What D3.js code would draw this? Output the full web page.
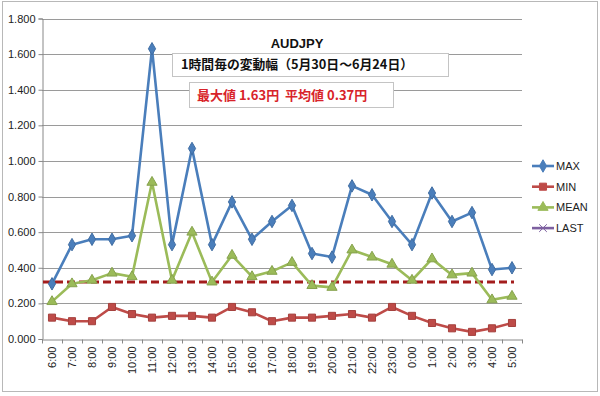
<!DOCTYPE html>
<html>
<head>
<meta charset="utf-8">
<script src="https://cdn.jsdelivr.net/npm/d3@7/dist/d3.min.js"></script>
<style>
  body { margin: 0; background: #fff; }
  svg { display: block; }
  .axis text { font-family: "Liberation Sans", Arial, sans-serif; font-size: 11px; fill: #222; }
</style>
</head>
<body>
<div id="chart"></div>
<script>
// hours (x categories)
var hours = ["6:00","7:00","8:00","9:00","10:00","11:00","12:00","13:00","14:00","15:00","16:00","17:00",
             "18:00","19:00","20:00","21:00","22:00","23:00","0:00","1:00","2:00","3:00","4:00","5:00"];

var maxVals  = [0.31,0.53,0.56,0.56,0.58,1.63,0.53,1.07,0.53,0.77,0.56,0.66,
                0.75,0.48,0.46,0.86,0.81,0.66,0.53,0.82,0.66,0.71,0.39,0.40];
var minVals  = [0.12,0.10,0.10,0.18,0.14,0.12,0.13,0.13,0.12,0.18,0.15,0.10,
                0.12,0.12,0.13,0.14,0.12,0.18,0.13,0.09,0.06,0.04,0.06,0.09];
var meanVals = [0.21,0.31,0.33,0.37,0.35,0.88,0.33,0.60,0.32,0.47,0.35,0.38,
                0.43,0.30,0.29,0.50,0.46,0.42,0.33,0.45,0.36,0.37,0.22,0.24];
var refLine = 0.32;

var yTicks = [0, 0.2, 0.4, 0.6, 0.8, 1.0, 1.2, 1.4, 1.6, 1.8];
var seriesNames = ["MAX", "MIN", "MEAN", "LAST"];
var colors = {MAX: "#4a7ebb", MIN: "#be4b48", MEAN: "#9bbb59", LAST: "#7d60a0"};

var width = 600, height = 396;
var svg = d3.select("#chart").append("svg")
    .attr("width", width)
    .attr("height", height);

// chart frame
svg.append("rect")
    .attr("x", 2.5).attr("y", 1.5)
    .attr("width", 595).attr("height", 390)
    .attr("fill", "#fff")
    .attr("stroke", "#b8b8b8");

var x = d3.scaleBand().domain(hours).range([42, 522]);
var y = d3.scaleLinear().domain([0, 1.8]).range([339, 18.5]);
var cx = function(d, i) { return x(hours[i]) + x.bandwidth() / 2; };

// gridlines
svg.append("g")
    .selectAll("line")
    .data(yTicks.slice(1))
    .join("line")
    .attr("x1", 42).attr("x2", 522)
    .attr("y1", function(d) { return Math.round(y(d)) + 0.5; })
    .attr("y2", function(d) { return Math.round(y(d)) + 0.5; })
    .attr("stroke", "#9a9a9a")
    .attr("stroke-width", 1);

// y axis
var yAxis = svg.append("g")
    .attr("class", "axis")
    .attr("transform", "translate(42.5,0)")
    .call(d3.axisLeft(y).tickValues(yTicks).tickFormat(d3.format(".3f")).tickSize(4).tickPadding(3));
yAxis.selectAll("path, line").attr("stroke", "#888");

// x axis
var xAxis = svg.append("g")
    .attr("class", "axis")
    .attr("transform", "translate(0,339.5)")
    .call(d3.axisBottom(x).tickSize(0).tickPadding(0));
xAxis.select("path").attr("stroke", "#888");
xAxis.selectAll("text")
    .attr("transform", "rotate(-90)")
    .attr("text-anchor", "end")
    .attr("x", -7)
    .attr("y", 0)
    .attr("dy", "0.35em");
// tick marks at band boundaries
xAxis.selectAll(".bnd")
    .data(hours.concat(["end"]))
    .join("line")
    .attr("class", "bnd")
    .attr("x1", function(d, i) { return Math.round(42 + i * x.step()) + 0.5; })
    .attr("x2", function(d, i) { return Math.round(42 + i * x.step()) + 0.5; })
    .attr("y1", 0).attr("y2", 4)
    .attr("stroke", "#888");

// reference dashed line
svg.append("line")
    .attr("x1", 43).attr("x2", cx(null, hours.length - 1) + 2)
    .attr("y1", y(refLine)).attr("y2", y(refLine))
    .attr("stroke", "#a31d1d")
    .attr("stroke-width", 3)
    .attr("stroke-dasharray", "8,4");

var line = d3.line().x(cx).y(function(d) { return y(d); });

function drawSeries(vals, name, marker) {
    var g = svg.append("g");
    g.append("path")
        .datum(vals)
        .attr("fill", "none")
        .attr("stroke", colors[name])
        .attr("stroke-width", 2.6)
        .attr("stroke-linejoin", "round")
        .attr("d", line);
    g.selectAll("path.mk")
        .data(vals)
        .join("path")
        .attr("class", "mk")
        .attr("transform", function(d, i) { return "translate(" + cx(d, i) + "," + y(d) + ")"; })
        .attr("d", marker)
        .attr("fill", colors[name])
        .attr("stroke", d3.color(colors[name]).darker(0.4));
}

var diamond = d3.symbol().type(d3.symbolDiamond).size(45)();
var square = d3.symbol().type(d3.symbolSquare).size(50)();
var triangle = d3.symbol().type(d3.symbolTriangle).size(45)();
var cross = d3.symbol().type(d3.symbolX).size(40)();

drawSeries(minVals, "MIN", square);
drawSeries(meanVals, "MEAN", triangle);
drawSeries(maxVals, "MAX", diamond);

// legend
var markers = {MAX: diamond, MIN: square, MEAN: triangle, LAST: cross};
var lg = svg.append("g").attr("transform", "translate(532,166)");
seriesNames.forEach(function(name, i) {
    var row = lg.append("g").attr("transform", "translate(0," + (i * 20.7) + ")");
    row.append("line")
        .attr("x1", 0).attr("x2", 22)
        .attr("stroke", colors[name]).attr("stroke-width", 2.6);
    row.append("path")
        .attr("transform", "translate(11,0)")
        .attr("d", markers[name])
        .attr("fill", name === "LAST" ? "none" : colors[name])
        .attr("stroke", colors[name]);
    row.append("text")
        .attr("x", 24).attr("y", 0).attr("dy", "0.35em")
        .attr("font-family", "'Liberation Sans', Arial, sans-serif")
        .attr("font-size", 11)
        .attr("fill", "#222")
        .text(name);
});

// title
svg.append("text")
    .attr("x", 297).attr("y", 43).attr("dy", "0.35em")
    .attr("text-anchor", "middle")
    .attr("font-family", "'Liberation Sans', Arial, sans-serif")
    .attr("font-weight", "bold").attr("font-size", 13)
    .attr("fill", "#111")
    .text("AUDJPY");

// annotation boxes
var jp = "'Noto Sans CJK JP', 'Noto Sans', sans-serif";
svg.append("rect")
    .attr("x", 172.5).attr("y", 53.5).attr("width", 276).attr("height", 23)
    .attr("fill", "#fff").attr("stroke", "#c4c4c4");
svg.append("text")
    .attr("x", 181).attr("y", 65).attr("dy", "0.35em")
    .attr("font-family", jp).attr("font-weight", "bold").attr("font-size", 12.8)
    .attr("fill", "#111")
    .text("1時間毎の変動幅（5月30日～6月24日）");

svg.append("rect")
    .attr("x", 189.5).attr("y", 82.5).attr("width", 204).attr("height", 25)
    .attr("fill", "#fff").attr("stroke", "#c4c4c4");
svg.append("text")
    .attr("x", 197).attr("y", 95).attr("dy", "0.35em")
    .attr("font-family", jp).attr("font-weight", "bold").attr("font-size", 13)
    .attr("fill", "#d8232a")
    .text("最大値 1.63円\u00a0\u00a0平均値 0.37円");
</script>
</body>
</html>
